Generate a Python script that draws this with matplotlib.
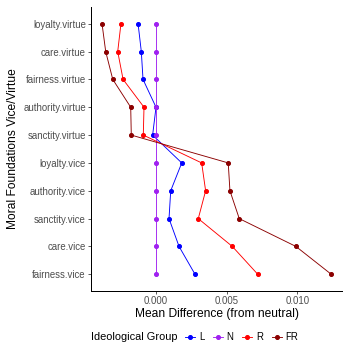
import numpy as np
import matplotlib.pyplot as plt
from matplotlib.lines import Line2D

plt.rcParams['font.family'] = ['Liberation Sans', 'DejaVu Sans']

foundations = ["loyalty.virtue", "care.virtue", "fairness.virtue", "authority.virtue",
               "sanctity.virtue", "loyalty.vice", "authority.vice", "sanctity.vice",
               "care.vice", "fairness.vice"]
groups = ["L", "N", "R", "FR"]
colors = {"L": "#0000FF", "N": "#A020F0", "R": "#FF0000", "FR": "#8B0000"}

mean_L = [-0.00127, -0.00104, -0.00092, 0.00000, -0.00024,
          0.00182, 0.00104, 0.00092, 0.00163, 0.00276]
mean_N = [0.0, 0.0, 0.0, 0.0, 0.0, 0.0, 0.0, 0.0, 0.0, 0.0]
mean_R = [-0.00248, -0.00271, -0.00233, -0.00085, -0.00090,
          0.00323, 0.00351, 0.00299, 0.00540, 0.00720]
mean_FR = [-0.00382, -0.00356, -0.00306, -0.00179, -0.00175,
           0.00511, 0.00523, 0.00589, 0.00990, 0.01240]
means = {"L": mean_L, "N": mean_N, "R": mean_R, "FR": mean_FR}

fig = plt.figure(figsize=(343/72, 345/72), dpi=72)
ax = fig.add_axes([91/343, 1-291/345, 252/343, 284/345])

# first category at the top
ypos = np.arange(len(foundations))[::-1]
for g in groups:
    ax.plot(means[g], ypos, '-o', color=colors[g], lw=0.9, ms=4, label=g)

ax.set_yticks(ypos)
ax.set_yticklabels(foundations)
ax.set_ylim(-0.6, len(foundations) - 0.4)
ax.set_xlim(-0.0046, 0.01323)
ax.set_xticks([0.0, 0.005, 0.010])
ax.set_xticklabels(["0.000", "0.005", "0.010"])
ax.tick_params(labelsize=9.6, length=2.7, width=0.8, pad=2.5,
               colors="#333333", labelcolor="#4D4D4D")
for s in ["top", "right"]:
    ax.spines[s].set_visible(False)
for s in ["left", "bottom"]:
    ax.spines[s].set_linewidth(1.0)

ax.set_xlabel("Mean Difference (from neutral)", fontsize=12, labelpad=2)
ax.set_ylabel("Moral Foundations Vice/Virtue", fontsize=12, labelpad=4)

# legend along the bottom, title to the left of the keys
fig.text(91/343, 1-337/345, "Ideological Group", fontsize=11, va="center", ha="left")
handles = [Line2D([0], [0], color=colors[g], lw=0.9, marker='o', ms=4) for g in groups]
fig.legend(handles, groups, loc="center left", bbox_to_anchor=(185/343, 1-337/345),
           ncol=4, frameon=False, fontsize=9.6, handlelength=1.05, handletextpad=0.4,
           columnspacing=0.9, borderpad=0, borderaxespad=0)

fig.savefig("out.png", dpi=72)
